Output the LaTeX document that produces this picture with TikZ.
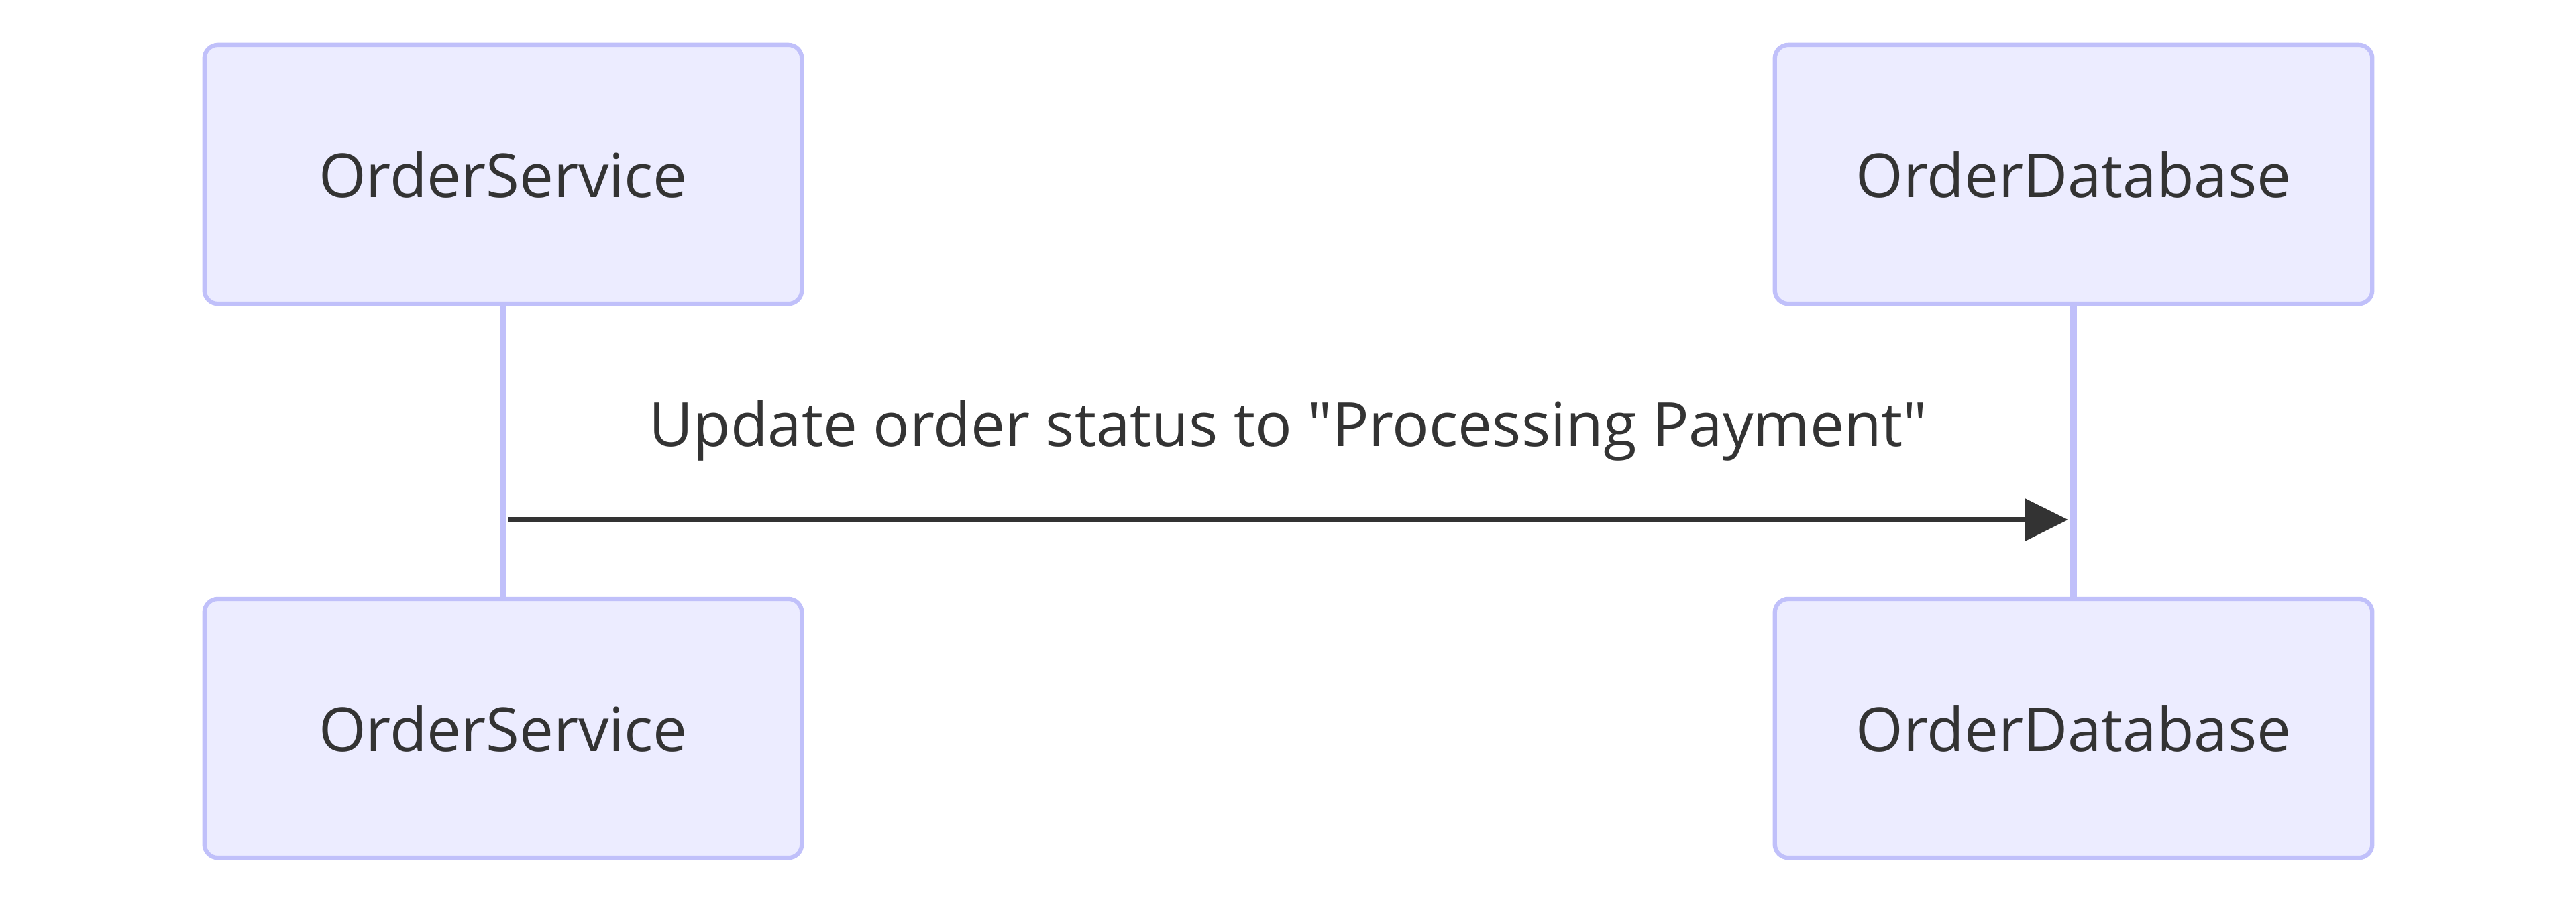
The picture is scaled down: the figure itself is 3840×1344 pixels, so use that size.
\documentclass[tikz,border=0pt]{standalone}
\usepackage{fontspec}
\setmainfont{Open Sans}
\usepackage{tikz}
\usetikzlibrary{arrows.meta}
\usetikzlibrary{positioning}
\usetikzlibrary{calc}
\definecolor{actorfill}{HTML}{ECECFF}
\definecolor{actorline}{HTML}{C0C0FA}
\definecolor{msgtext}{HTML}{333333}

\begin{document}
\begin{tikzpicture}[x=0.01cm,y=-0.01cm,
	actor/.style={rectangle,rounded corners=0.2cm,draw=actorline,line width=1.8pt,fill=actorfill,
		minimum width=8.9cm,minimum height=3.86cm,inner sep=0pt,text=msgtext,
		font=\fontsize{25.8}{31}\selectfont},
	lifeline/.style={draw=actorline,line width=2.8pt},
	msg/.style={draw=msgtext,line width=2.5pt,-{Triangle[length=0.65cm,width=0.62cm]},shorten <=0.07cm,shorten >=0.08cm},
	msglabel/.style={text=msgtext,font=\fontsize{25.8}{31}\selectfont,anchor=base,inner sep=0pt}]
	\useasboundingbox (0,0) rectangle (3840,1344);
	\node [actor] (osTop) at (750,260) {OrderService};
	\node [actor] (dbTop) at (3091,260) {OrderDatabase};
	\node [actor] (osBot) at (750,1086) {OrderService};
	\node [actor] (dbBot) at (3091,1086) {OrderDatabase};
	\draw [lifeline] (osTop.south) -- (osBot.north);
	\draw [lifeline] (dbTop.south) -- (dbBot.north);
	\coordinate (msgFrom) at (osTop.south |- 0,775);
	\coordinate (msgTo) at (dbTop.south |- 0,775);
	\draw [msg] (msgFrom) -- (msgTo);
	\node [msglabel] (msgText) at ($(msgFrom)!0.5!(msgTo)+(0,-110)$) {Update order status to \textquotedbl Processing Payment\textquotedbl};
\end{tikzpicture}
\end{document}
